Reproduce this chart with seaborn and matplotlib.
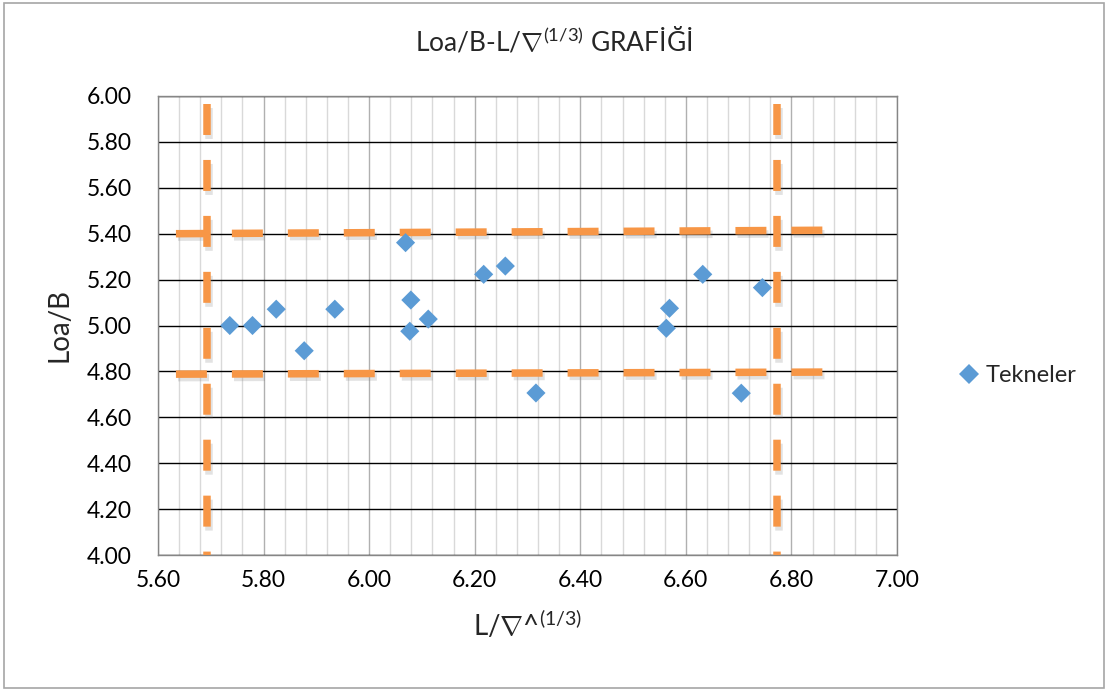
import numpy as np
import pandas as pd
import seaborn as sns
import matplotlib.pyplot as plt
import matplotlib.patheffects as pe
from matplotlib.patches import Rectangle

# Tekneler: L/V^(1/3) ve Loa/B degerleri
l_oran = [5.736, 5.779, 5.824, 5.877, 5.935, 6.069, 6.079, 6.112, 6.077,
          6.217, 6.258, 6.316, 6.632, 6.569, 6.563, 6.745, 6.705]
loa_b = [5.00, 5.00, 5.071, 4.890, 5.071, 5.361, 5.111, 5.028, 4.975,
         5.223, 5.259, 4.706, 5.223, 5.075, 4.988, 5.165, 4.705]

# sinir cizgileri (turuncu kesikli)
ust_x = [5.634, 6.86]
ust_y = [5.40, 5.415]
alt_x = [5.634, 6.86]
alt_y = [4.788, 4.797]
sol_x = [5.692, 5.692]
sag_x = [6.772, 6.772]
dikey_y = [5.965, 4.00]

x_ticks = [5.60, 5.80, 6.00, 6.20, 6.40, 6.60, 6.80, 7.00]
y_ticks = [4.00, 4.20, 4.40, 4.60, 4.80, 5.00, 5.20, 5.40, 5.60, 5.80, 6.00]

df = pd.DataFrame({'L': l_oran, 'LoaB': loa_b, 'Seri': 'Tekneler'})

sns.set_style('white')
plt.rcParams['font.family'] = ['Lato', 'DejaVu Sans']
plt.rcParams['mathtext.fontset'] = 'custom'
plt.rcParams['mathtext.rm'] = 'Lato'
plt.rcParams['mathtext.it'] = 'Lato:italic'

fig = plt.figure(figsize=(11.07, 6.90), dpi=100)
ax = fig.add_axes([158 / 1107, 1 - 555 / 690, (897 - 158) / 1107, (555 - 96) / 690])

# cerceve
fig.patches.append(Rectangle((4 / 1107, 2 / 690), 1100 / 1107, 685 / 690,
                             transform=fig.transFigure, fill=False,
                             edgecolor='#a6a6a6', linewidth=1.2))

# kilavuz cizgileri
ax.set_xticks(x_ticks)
ax.set_xticks(np.arange(5.60, 7.001, 0.04), minor=True)
ax.set_yticks(y_ticks)
ax.grid(True, which='minor', axis='x', color='#d9d9d9', linewidth=1)
ax.grid(True, which='major', axis='x', color='#b0b0b0', linewidth=1)
ax.grid(True, which='major', axis='y', color='black', linewidth=1)
ax.set_axisbelow(True)

golge = [pe.SimpleLineShadow(offset=(1.5, -2.5), shadow_color='#7f7f7f', alpha=0.22),
         pe.Normal()]
kesik = (0, (4.13, 3.33))
for xs, ys in [(ust_x, ust_y), (alt_x, alt_y), (sol_x, dikey_y), (sag_x, dikey_y)]:
    ax.plot(xs, ys, color='#F79646', linewidth=5.4, linestyle=kesik,
            solid_capstyle='butt', dash_capstyle='butt', path_effects=golge, zorder=3)

sns.scatterplot(data=df, x='L', y='LoaB', hue='Seri', palette=['#5B9BD5'],
                marker='D', s=95, linewidth=0, ax=ax, zorder=4)

ax.set_xlim(5.60, 7.00)
ax.set_ylim(4.00, 6.00)
ax.xaxis.set_major_formatter(plt.FormatStrFormatter('%.2f'))
ax.yaxis.set_major_formatter(plt.FormatStrFormatter('%.2f'))
ax.tick_params(axis='both', which='both', length=0, labelsize=16.5, colors='black')
ax.tick_params(axis='x', pad=11)
ax.tick_params(axis='y', pad=19)
for s in ax.spines.values():
    s.set_color('#868686')
    s.set_linewidth(1)

ax.set_xlabel(r'L/$\nabla$^$^{\mathrm{(1/3)}}$', fontsize=20, labelpad=12)
ax.set_ylabel('Loa/B', fontsize=20, labelpad=10)
fig.suptitle(r'Loa/B-L/$\nabla^{\mathrm{(1/3)}}$ GRAFİĞİ', x=0.5, y=1 - 26 / 690,
             fontsize=19, va='top')

leg = ax.legend(loc='center left', bbox_to_anchor=(948 / 1107, 1 - 376 / 690),
                bbox_transform=fig.transFigure, frameon=False, fontsize=17,
                handlelength=1.0, handletextpad=0.2, borderaxespad=0)

fig.savefig('out.png', dpi=100)
